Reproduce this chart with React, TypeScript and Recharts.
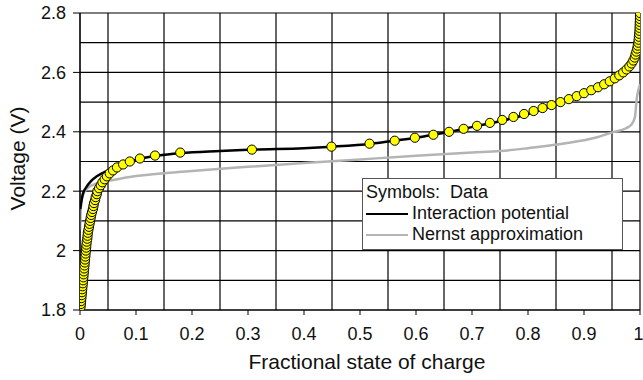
import {
  ComposedChart,
  Line,
  Scatter,
  XAxis,
  YAxis,
  CartesianGrid,
  Legend,
} from "recharts";

// Measured cell: state of charge reached at each 10 mV step
const dataSoc = [
  0.0, 0.001, 0.0015, 0.002, 0.0025, 0.003, 0.0035, 0.004, 0.0045, 0.005,
  0.0055, 0.006, 0.0065, 0.007, 0.0075, 0.008, 0.0085, 0.009, 0.0095, 0.01,
  0.0105, 0.011, 0.0115, 0.012, 0.013, 0.0135, 0.014, 0.015, 0.016, 0.017,
  0.018, 0.019, 0.02, 0.0215, 0.023, 0.024, 0.025, 0.027, 0.028, 0.03,
  0.031, 0.034, 0.037, 0.04, 0.044, 0.048, 0.053, 0.059, 0.066, 0.077,
  0.089, 0.107, 0.134, 0.179, 0.307, 0.449, 0.517, 0.562, 0.598, 0.631,
  0.659, 0.685, 0.709, 0.732, 0.754, 0.774, 0.793, 0.81, 0.826, 0.842,
  0.858, 0.873, 0.887, 0.9, 0.913, 0.925, 0.936, 0.946, 0.955, 0.963,
  0.97, 0.976, 0.981, 0.985, 0.988, 0.9905, 0.992, 0.9935, 0.995, 0.996,
  0.997, 0.9975, 0.998, 0.9985, 0.999, 0.9992, 0.9994, 0.9996, 0.9998, 0.9999,
  1.0,
];
const dataVoltage = [
  1.8, 1.81, 1.82, 1.83, 1.84, 1.85, 1.86, 1.87, 1.88, 1.89,
  1.9, 1.91, 1.92, 1.93, 1.94, 1.95, 1.96, 1.97, 1.98, 1.99,
  2.0, 2.01, 2.02, 2.03, 2.04, 2.05, 2.06, 2.07, 2.08, 2.09,
  2.1, 2.11, 2.12, 2.13, 2.14, 2.15, 2.16, 2.17, 2.18, 2.19,
  2.2, 2.21, 2.22, 2.23, 2.24, 2.25, 2.26, 2.27, 2.28, 2.29,
  2.3, 2.31, 2.32, 2.33, 2.34, 2.35, 2.36, 2.37, 2.38, 2.39,
  2.4, 2.41, 2.42, 2.43, 2.44, 2.45, 2.46, 2.47, 2.48, 2.49,
  2.5, 2.51, 2.52, 2.53, 2.54, 2.55, 2.56, 2.57, 2.58, 2.59,
  2.6, 2.61, 2.62, 2.63, 2.64, 2.65, 2.66, 2.67, 2.68, 2.69,
  2.7, 2.71, 2.72, 2.73, 2.74, 2.75, 2.76, 2.77, 2.78, 2.79,
  2.8,
];

// Interaction potential model
const interactionSoc = [
  0.0005, 0.002, 0.005, 0.01, 0.02, 0.03, 0.05, 0.07, 0.09, 0.11, 0.14,
  0.18, 0.25, 0.31, 0.4, 0.45, 0.52, 0.56, 0.6, 0.63, 0.66, 0.71, 0.76,
  0.8, 0.84, 0.88, 0.92, 0.95, 0.97, 0.985, 0.993, 0.997, 0.999, 1.0,
];
const interactionVoltage = [
  2.14, 2.16, 2.19, 2.21, 2.235, 2.25, 2.27, 2.285, 2.3, 2.31, 2.32,
  2.328, 2.335, 2.34, 2.345, 2.35, 2.36, 2.37, 2.38, 2.39, 2.4, 2.42, 2.44,
  2.46, 2.485, 2.515, 2.55, 2.58, 2.61, 2.64, 2.68, 2.72, 2.76, 2.8,
];

// Nernst approximation
const nernstSoc = [
  0.0003, 0.001, 0.003, 0.008, 0.015, 0.03, 0.06, 0.1, 0.2, 0.3, 0.4,
  0.5, 0.6, 0.7, 0.75, 0.8, 0.87, 0.92, 0.95, 0.975, 0.985, 0.991, 0.994,
  0.997, 1.0,
];
const nernstVoltage = [
  2.07, 2.12, 2.17, 2.198, 2.213, 2.226, 2.238, 2.251, 2.268, 2.282, 2.295,
  2.307, 2.319, 2.33, 2.335, 2.345, 2.362, 2.38, 2.398, 2.412, 2.425, 2.45,
  2.51, 2.54, 2.56,
];

const xTicks = [0, 0.1, 0.2, 0.3, 0.4, 0.5, 0.6, 0.7, 0.8, 0.9, 1];
const yTicks = [1.8, 2, 2.2, 2.4, 2.6, 2.8];
const xGrid = [
  0, 0.05, 0.1, 0.15, 0.2, 0.25, 0.3, 0.35, 0.4, 0.45, 0.5, 0.55, 0.6, 0.65,
  0.7, 0.75, 0.8, 0.85, 0.9, 0.95, 1,
];
const yGrid = [1.8, 1.9, 2, 2.1, 2.2, 2.3, 2.4, 2.5, 2.6, 2.7, 2.8];

const zip = (xs: number[], vs: number[]) =>
  xs.map((x, i) => ({ x, v: vs[i] }));

const measured = zip(dataSoc, dataVoltage);
const interaction = zip(interactionSoc, interactionVoltage);
const nernst = zip(nernstSoc, nernstVoltage);

const FONT = "'Liberation Sans', Arial, sans-serif";

function DataDot(props: any) {
  const { cx, cy } = props;
  if (cx == null || cy == null) return null;
  return (
    <circle cx={cx} cy={cy} r={4.6} fill="#ffff00" stroke="#000" strokeWidth={1} />
  );
}

function LegendBox() {
  const row = { display: "flex", alignItems: "center", height: 21 };
  const swatch = (color: string) => (
    <span
      style={{
        display: "inline-block",
        width: 42,
        height: 0,
        borderTop: `2.5px solid ${color}`,
        marginRight: 4,
      }}
    />
  );
  return (
    <div
      style={{
        background: "#fff",
        border: "1px solid #555",
        padding: "3px 3px 4px 3px",
        fontFamily: FONT,
        fontSize: 18,
        color: "#111",
        boxSizing: "border-box",
      }}
    >
      <div style={row}>Symbols:&nbsp;&nbsp;Data</div>
      <div style={row}>
        {swatch("#000")}Interaction potential
      </div>
      <div style={row}>
        {swatch("#b4b4b4")}Nernst approximation
      </div>
    </div>
  );
}

export default function App() {
  return (
    <div style={{ position: "absolute", left: 0, top: 0, background: "#fff" }}>
      <ComposedChart
        width={643}
        height={380}
        margin={{ top: 13, right: 3, bottom: 0, left: 0 }}
      >
        <CartesianGrid
          stroke="#000"
          strokeWidth={1.2}
          horizontalValues={yGrid}
          verticalValues={xGrid}
        />
        <XAxis
          type="number"
          dataKey="x"
          domain={[0, 1]}
          ticks={xTicks}
          allowDataOverflow
          height={70}
          tickSize={5}
          tickMargin={12}
          stroke="#000"
          tick={{ fill: "#111", fontSize: 18, fontFamily: FONT }}
          tickFormatter={(v: number) => String(v)}
          label={{
            value: "Fractional state of charge",
            position: "insideBottom",
            offset: 11,
            dx: 7,
            fill: "#111",
            fontSize: 21,
            fontFamily: FONT,
          }}
        />
        <YAxis
          type="number"
          dataKey="v"
          domain={[1.8, 2.8]}
          ticks={yTicks}
          allowDataOverflow
          width={80}
          tickSize={7}
          tickMargin={7}
          stroke="#000"
          tick={{ fill: "#111", fontSize: 18, fontFamily: FONT }}
          tickFormatter={(v: number) => String(v)}
          label={{
            value: "Voltage (V)",
            angle: -90,
            position: "insideLeft",
            offset: 18,
            dy: -3,
            fill: "#111",
            fontSize: 21,
            fontFamily: FONT,
            style: { textAnchor: "middle" },
          }}
        />
        <Line
          data={nernst}
          dataKey="v"
          type="monotone"
          stroke="#b4b4b4"
          strokeWidth={2.5}
          dot={false}
          isAnimationActive={false}
        />
        <Line
          data={interaction}
          dataKey="v"
          type="monotone"
          stroke="#000"
          strokeWidth={2.5}
          dot={false}
          isAnimationActive={false}
        />
        <Scatter
          data={measured}
          dataKey="v"
          shape={DataDot}
          isAnimationActive={false}
        />
        <Legend
          layout="horizontal"
          verticalAlign="middle"
          align="center"
          content={() => <LegendBox />}
          wrapperStyle={{ left: 362, top: 178, width: 261 }}
        />
      </ComposedChart>
    </div>
  );
}
